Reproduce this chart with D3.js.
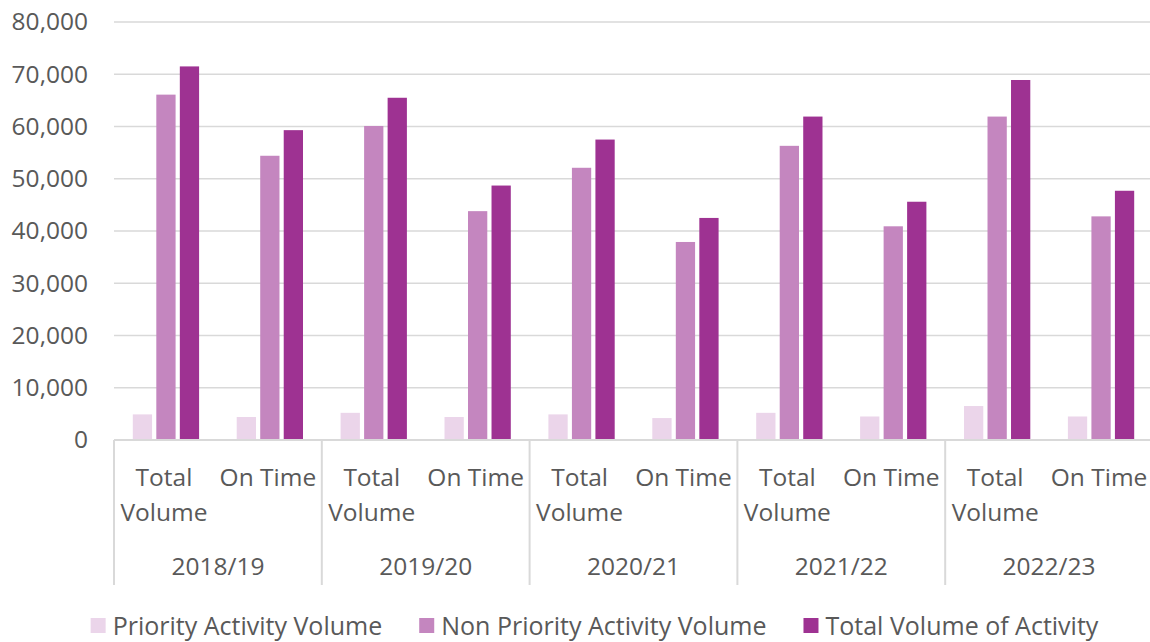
<!DOCTYPE html>
<html>
<head>
<meta charset="utf-8">
<script src="https://cdn.jsdelivr.net/npm/d3@7"></script>
<style>
  body { margin: 0; background: #fff; }
  text { font-family: "Open Sans", "Noto Sans", sans-serif; fill: #595959; }
</style>
</head>
<body>
<div id="chart"></div>
<script>
// ---- data ----
var years = ["2018/19", "2019/20", "2020/21", "2021/22", "2022/23"];
var measures = ["Total Volume", "On Time"];
var measureLines = { "Total Volume": ["Total", "Volume"], "On Time": ["On Time"] };
var seriesNames = ["Priority Activity Volume", "Non Priority Activity Volume", "Total Volume of Activity"];
var seriesColors = ["#ebd5ea", "#c486bf", "#9e3292"];
var priority    = [4900, 4400, 5200, 4400, 4900, 4200, 5200, 4500, 6500, 4500];
var nonPriority = [66100, 54400, 60100, 43800, 52100, 37900, 56300, 40900, 61900, 42800];
var totalVolume = [71500, 59300, 65500, 48700, 57500, 42500, 61900, 45600, 68900, 47700];
var yTicks = [0, 10000, 20000, 30000, 40000, 50000, 60000, 70000, 80000];

var W = 1150, H = 642;
var margin = { left: 114, right: -3, top: 22, bottom: 202 };
var axisFont = "24.5px";

// one row per (year, measure)
var rows = [];
years.forEach(function(y) {
  measures.forEach(function(m) {
    rows.push({ year: y, measure: m, key: y + "|" + m });
  });
});
rows.forEach(function(r, i) {
  r.values = [priority[i], nonPriority[i], totalVolume[i]];
});

var svg = d3.select("#chart").append("svg")
  .attr("width", W)
  .attr("height", H);

var x0 = d3.scaleBand()
  .domain(rows.map(function(d) { return d.key; }))
  .range([margin.left, W - margin.right])
  .padding(0);

var x1 = d3.scaleBand()
  .domain(d3.range(seriesNames.length))
  .range([0, x0.bandwidth()])
  .paddingInner(0.18)
  .paddingOuter(0.8);

var yScale = d3.scaleLinear()
  .domain([0, 80000])
  .range([H - margin.bottom, margin.top]);

var baseY = yScale(0);

// gridlines
svg.append("g")
  .selectAll("line")
  .data(yTicks.slice(1))
  .enter().append("line")
  .attr("x1", margin.left)
  .attr("x2", W)
  .attr("y1", function(d) { return yScale(d); })
  .attr("y2", function(d) { return yScale(d); })
  .attr("stroke", "#d9d9d9")
  .attr("stroke-width", 1.5);

// y axis labels
var yAxis = d3.axisLeft(yScale)
  .tickValues(yTicks)
  .tickFormat(d3.format(","))
  .tickSize(0)
  .tickPadding(26);

var yAxisGroup = svg.append("g")
  .attr("transform", "translate(" + margin.left + ",0)")
  .call(yAxis);
yAxisGroup.select(".domain").remove();
yAxisGroup.selectAll("text")
  .style("font-size", axisFont)
  .style("font-family", "'Open Sans', sans-serif")
  .attr("fill", "#595959");

// bars
var groups = svg.append("g")
  .selectAll("g")
  .data(rows)
  .enter().append("g")
  .attr("transform", function(d) { return "translate(" + x0(d.key) + ",0)"; });

groups.selectAll("rect")
  .data(function(d) { return d.values; })
  .enter().append("rect")
  .attr("x", function(d, i) { return x1(i); })
  .attr("width", x1.bandwidth())
  .attr("y", function(d) { return yScale(d); })
  .attr("height", function(d) { return baseY - yScale(d); })
  .attr("fill", function(d, i) { return seriesColors[i]; });

// x axis line and year separators
svg.append("line")
  .attr("x1", margin.left).attr("x2", W)
  .attr("y1", baseY).attr("y2", baseY)
  .attr("stroke", "#d9d9d9").attr("stroke-width", 2);

var sepBottom = 585;
svg.append("g")
  .selectAll("line")
  .data(years)
  .enter().append("line")
  .attr("x1", function(y) { return x0(y + "|" + measures[0]); })
  .attr("x2", function(y) { return x0(y + "|" + measures[0]); })
  .attr("y1", baseY)
  .attr("y2", sepBottom)
  .attr("stroke", "#d9d9d9")
  .attr("stroke-width", 2);

// measure labels
var catLabels = svg.append("g")
  .selectAll("text")
  .data(rows)
  .enter().append("text")
  .attr("text-anchor", "middle")
  .style("font-size", axisFont)
  .attr("transform", function(d) {
    return "translate(" + (x0(d.key) + x0.bandwidth() / 2 - 2) + ",0)";
  });

catLabels.selectAll("tspan")
  .data(function(d) { return measureLines[d.measure]; })
  .enter().append("tspan")
  .attr("x", 0)
  .attr("y", function(d, i) { return 486 + i * 35; })
  .text(function(d) { return d; });

// year labels
svg.append("g")
  .selectAll("text")
  .data(years)
  .enter().append("text")
  .attr("text-anchor", "middle")
  .style("font-size", axisFont)
  .attr("x", function(y) { return x0(y + "|" + measures[0]) + x0.bandwidth(); })
  .attr("y", 575)
  .text(function(d) { return d; });

// legend
var legend = svg.append("g");
var items = legend.selectAll("g")
  .data(seriesNames)
  .enter().append("g");

items.append("rect")
  .attr("width", 15).attr("height", 15)
  .attr("y", 618)
  .attr("fill", function(d, i) { return seriesColors[i]; });

items.append("text")
  .attr("x", 22)
  .attr("y", 635)
  .style("font-size", "25px")
  .text(function(d) { return d; });

var cursor = 0;
var offsets = [];
items.each(function() {
  offsets.push(cursor);
  var tw = d3.select(this).select("text").node().getComputedTextLength();
  cursor += 22 + tw + 37;
});
var legendWidth = cursor - 37;
var legendStart = 594.5 - legendWidth / 2;
items.attr("transform", function(d, i) { return "translate(" + (legendStart + offsets[i]) + ",0)"; });
</script>
</body>
</html>
